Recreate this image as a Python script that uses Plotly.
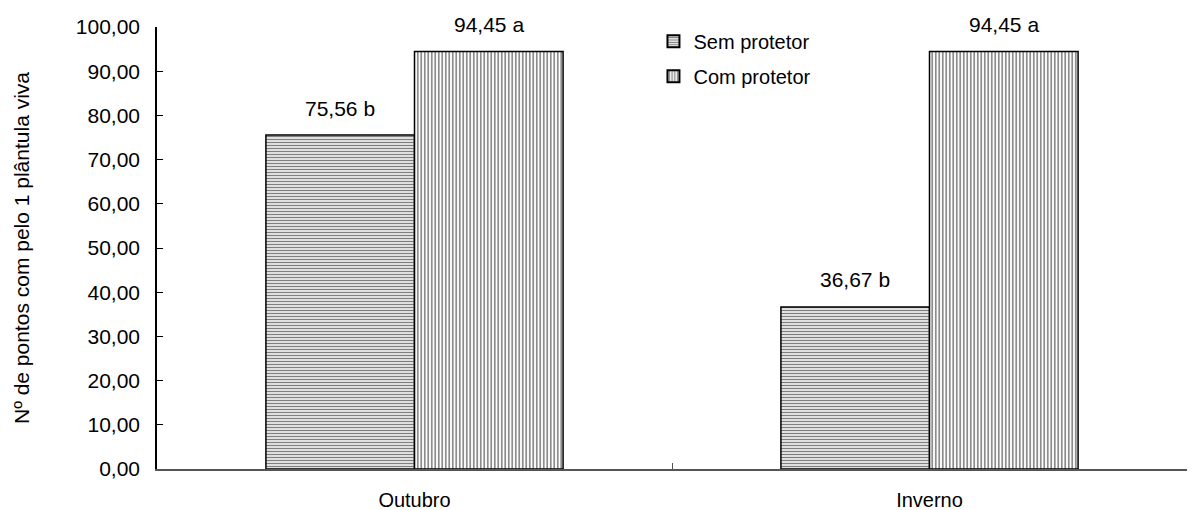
import plotly.graph_objects as go

# Survival data: points with at least one live seedling
categories = ["Outubro", "Inverno"]
sem_protetor = [75.56, 36.67]
com_protetor = [94.45, 94.45]
sem_letters = ["b", "b"]
com_letters = ["a", "a"]
series_names = ["Sem protetor", "Com protetor"]
y_ticks = [0, 10, 20, 30, 40, 50, 60, 70, 80, 90, 100]

FONT = "Liberation Sans, Arial, sans-serif"
BARGAP = 0.423


def fmt(v):
    return f"{v:.2f}".replace(".", ",")


fig = go.Figure()
fig.add_trace(go.Bar(
    name=series_names[0], x=categories, y=sem_protetor, legendgroup="sem",
    marker=dict(color="white", line=dict(color="black", width=1.5),
                pattern=dict(shape="-", size=3, solidity=0.5, fgcolor="black", bgcolor="white")),
))
fig.add_trace(go.Bar(
    name=series_names[1], x=categories, y=com_protetor, legendgroup="com",
    marker=dict(color="white", line=dict(color="black", width=1.5),
                pattern=dict(shape="|", size=3.5, solidity=0.45, fgcolor="black", bgcolor="white")),
))

# value labels above each bar
half = (1 - BARGAP) / 4
for i, (a, b) in enumerate(zip(sem_protetor, com_protetor)):
    fig.add_annotation(x=i - half, y=a, text=f"{fmt(a)} {sem_letters[i]}", showarrow=False,
                       yshift=27, font=dict(family=FONT, size=21, color="black"))
    fig.add_annotation(x=i + half, y=b, text=f"{fmt(b)} {com_letters[i]}", showarrow=False,
                       yshift=27, font=dict(family=FONT, size=21, color="black"))

fig.update_layout(
    width=1193, height=510,
    margin=dict(l=157, r=6, t=27, b=41),
    paper_bgcolor="white", plot_bgcolor="white",
    barmode="group", bargap=BARGAP, bargroupgap=0,
    separators=",.",
    font=dict(family=FONT, size=21, color="black"),
    legend=dict(x=0.482, y=1.012, xanchor="left", yanchor="top", bgcolor="rgba(0,0,0,0)",
                font=dict(family=FONT, size=20), itemsizing="constant", tracegroupgap=6),
    showlegend=True,
)
fig.update_xaxes(
    type="category", tickson="boundaries", ticks="inside", ticklen=6, tickcolor="#555",
    showline=True, linecolor="#555", linewidth=1.5, showgrid=False, automargin=False,
    tickfont=dict(family=FONT, size=20), range=[-0.5, 1.5], ticklabelstandoff=12,
)
fig.update_yaxes(
    range=[0, 100], tickvals=y_ticks, tickformat=".2f", ticks="inside", ticklen=6,
    tickcolor="black", showline=True, linecolor="black", linewidth=1.5, showgrid=False,
    zeroline=False, tickfont=dict(family=FONT, size=21), ticklabelstandoff=11, automargin=False,
    title=dict(text="Nº de pontos com pelo 1 plântula viva", font=dict(family=FONT, size=21), standoff=40),
)

fig.write_html("out.html")
